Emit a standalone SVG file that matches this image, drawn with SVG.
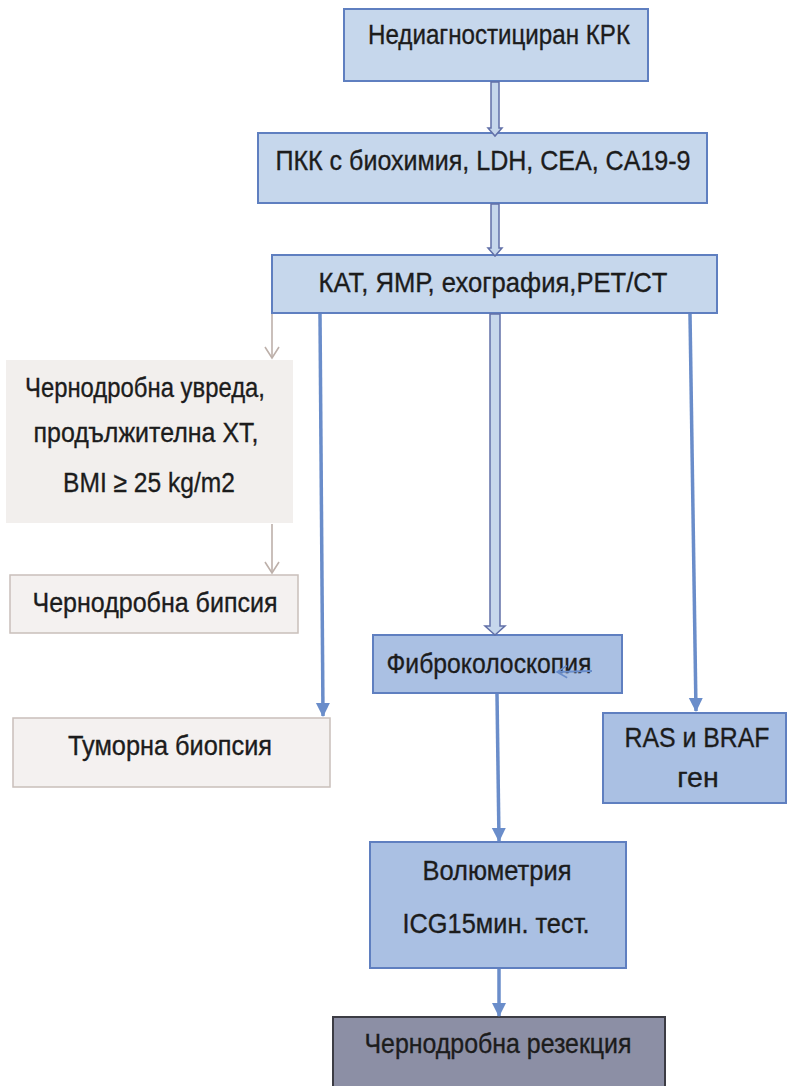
<svg xmlns="http://www.w3.org/2000/svg" width="789" height="1086" viewBox="0 0 789 1086">
<defs>
<style>
text{font-family:"Liberation Sans",Arial,sans-serif;fill:#1c1c1c;stroke:#1c1c1c;stroke-width:0.35;text-anchor:middle;font-size:28.5px}
.lb{fill:#c6d7ec;stroke:#5f7fc0;stroke-width:2}
.mb{fill:#aac0e3;stroke:#5f7fc0;stroke-width:2}
.gb{fill:#f2efed;stroke:none}
.gs{fill:#f4f1f0;stroke:#c9bfba;stroke-width:1.5}
.rb{fill:#8c8fa5;stroke:#3c3c44;stroke-width:2}
.bl{stroke:#6a8dca;stroke-width:3.5;fill:none}
.gl{stroke:#bdb0aa;stroke-width:1.6;fill:none}
.ha{fill:#c6d7ec;stroke:#6270a8;stroke-width:1.5}
</style>
<marker id="fa" markerUnits="userSpaceOnUse" markerWidth="16" markerHeight="16" refX="13" refY="7" orient="auto">
<path d="M0,0 L14,7 L0,14 Z" fill="#6a8dca"/>
</marker>
<marker id="va" markerUnits="userSpaceOnUse" markerWidth="16" markerHeight="18" refX="12" refY="8" orient="auto">
<path d="M1,1 L12,8 L1,15" fill="none" stroke="#bdb0aa" stroke-width="1.6"/>
</marker>
<marker id="sa" markerUnits="userSpaceOnUse" markerWidth="14" markerHeight="16" refX="11" refY="7" orient="auto">
<path d="M1,1 L11,7 L1,13" fill="none" stroke="#6a8dca" stroke-width="1.6"/>
</marker>
</defs>

<g id="n1">
<rect class="lb" x="344" y="9" width="304" height="72"/>
<text x="499" y="44" textLength="262" lengthAdjust="spacingAndGlyphs">Недиагностициран КРК</text>
</g>
<g id="n2">
<rect class="lb" x="258" y="133" width="449" height="70"/>
<text x="483" y="170" textLength="415" lengthAdjust="spacingAndGlyphs">ПКК с биохимия, LDH, CEA, CA19-9</text>
</g>
<g id="n3">
<rect class="lb" x="272" y="255" width="445" height="58"/>
<text x="493" y="292" textLength="349" lengthAdjust="spacingAndGlyphs">КАТ, ЯМР, ехография,PET/CT</text>
</g>
<g id="n4">
<rect class="gb" x="6" y="360" width="287" height="163"/>
<text x="145" y="397" font-size="27" textLength="240" lengthAdjust="spacingAndGlyphs">Чернодробна увреда,</text>
<text x="146" y="442" font-size="27" textLength="225" lengthAdjust="spacingAndGlyphs">продължителна XT,</text>
<text x="149" y="492" font-size="27" textLength="172" lengthAdjust="spacingAndGlyphs">BMI ≥ 25 kg/m2</text>
</g>
<g id="n5">
<rect class="gs" x="10" y="575" width="288" height="58"/>
<text x="155" y="612" textLength="245" lengthAdjust="spacingAndGlyphs">Чернодробна бипсия</text>
</g>
<g id="n6">
<rect class="gs" x="13" y="718" width="317" height="69"/>
<text x="170" y="755" textLength="204" lengthAdjust="spacingAndGlyphs">Туморна биопсия</text>
</g>
<g id="n7">
<rect class="mb" x="373" y="635" width="249" height="58"/>
<text x="489" y="673" textLength="205" lengthAdjust="spacingAndGlyphs">Фиброколоскопия</text>
</g>
<g id="n8">
<rect class="mb" x="603" y="713" width="183" height="90"/>
<text x="697" y="747" textLength="145" lengthAdjust="spacingAndGlyphs">RAS и BRAF</text>
<text x="698" y="787">ген</text>
</g>
<g id="n9">
<rect class="mb" x="370" y="842" width="256" height="126"/>
<text x="497" y="880" textLength="149" lengthAdjust="spacingAndGlyphs">Волюметрия</text>
<text x="496" y="933" textLength="187" lengthAdjust="spacingAndGlyphs">ICG15мин. тест.</text>
</g>
<g id="n10">
<rect class="rb" x="333" y="1017" width="332" height="80"/>
<text x="498" y="1053" textLength="267" lengthAdjust="spacingAndGlyphs">Чернодробна резекция</text>
</g>

<g id="connectors">
<path class="ha" d="M491,82 L499,82 L499,128 L502,128 L495,136 L488,128 L491,128 Z"/>
<path class="ha" d="M491,204 L499,204 L499,248 L502,248 L495,256 L488,248 L491,248 Z"/>
<path class="ha" d="M490,314 L500,314 L500,626 L505,626 L495,635 L485,626 L490,626 Z"/>
<path class="gl" d="M272,314 L272,358" marker-end="url(#va)"/>
<path class="gl" d="M272,524 L272,573" marker-end="url(#va)"/>
<path class="bl" d="M320,314 L323,716" marker-end="url(#fa)"/>
<path class="bl" d="M690,314 L696,711" marker-end="url(#fa)"/>
<path class="bl" d="M497,694 L499,841" marker-end="url(#fa)"/>
<path class="bl" d="M499,969 L499,1016" marker-end="url(#fa)"/>
<path d="M592,671 L557,672" stroke="#6a8dca" stroke-width="1.8" fill="none" marker-end="url(#sa)"/>
</g>
</svg>
